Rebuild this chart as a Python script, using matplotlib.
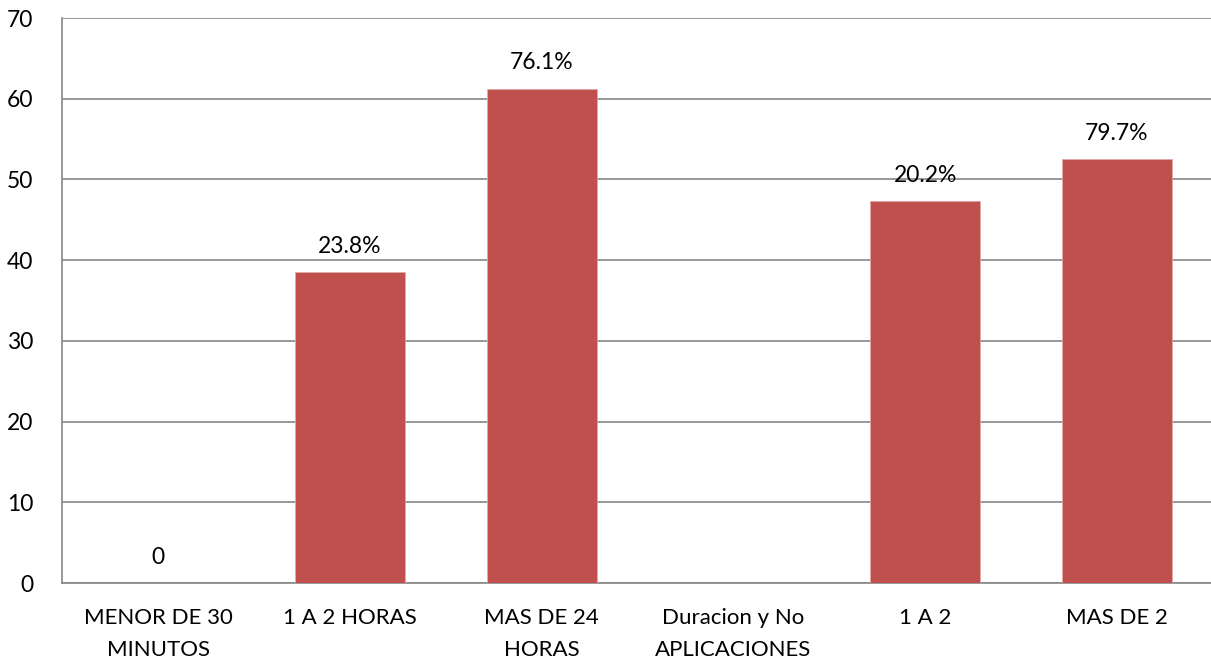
import numpy as np
import matplotlib
matplotlib.use("Agg")
import matplotlib.pyplot as plt

categories = ["MENOR DE 30\nMINUTOS", "1 A 2 HORAS", "MAS DE 24\nHORAS",
              "Duracion y No\nAPLICACIONES", "1 A 2", "MAS DE 2"]
values = [0, 38.55, 61.25, np.nan, 47.27, 52.55]
bar_labels = ["0", "23.8%", "76.1%", "", "20.2%", "79.7%"]
y_ticks = [0, 10, 20, 30, 40, 50, 60, 70]

plt.rcParams["font.family"] = ["Lato", "DejaVu Sans"]

fig = plt.figure(figsize=(12.11, 6.62), dpi=100)
ax = fig.add_axes([0.0515, 0.1193, 0.950, 0.8535])

x = np.arange(len(categories))
heights = np.nan_to_num(values, nan=0.0)
bars = ax.bar(x, heights, width=0.574, color="#C0504D", edgecolor="#E3A9A8",
              linewidth=0.6, zorder=3)
for i, b in enumerate(bars):
    if np.isnan(values[i]):
        b.set_visible(False)

for xi, v, lab in zip(x, values, bar_labels):
    if lab and not np.isnan(v):
        ax.annotate(lab, (xi, v), xytext=(0, 18.5), textcoords="offset points",
                    ha="center", va="center", fontsize=16.5, color="black")

ax.set_xlim(-0.5, len(categories) - 0.5)
ax.set_ylim(0, 70)
ax.set_yticks(y_ticks)
ax.set_xticks(x)
ax.set_xticklabels(categories, fontsize=16, linespacing=1.75)
ax.tick_params(axis="y", labelsize=16.5, length=0, pad=21)
ax.tick_params(axis="x", length=0, pad=18)
ax.grid(axis="y", color="#868686", linewidth=1.2, zorder=0)
for side in ["top", "right"]:
    ax.spines[side].set_visible(False)
for side in ["left", "bottom"]:
    ax.spines[side].set_color("#868686")
    ax.spines[side].set_linewidth(1.2)

fig.savefig("out.png", dpi=100)
